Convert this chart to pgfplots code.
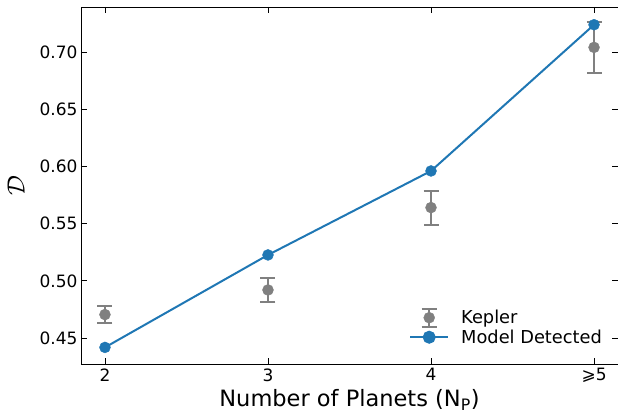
\documentclass[border=0pt]{standalone}
\usepackage{pgfplots}
\pgfplotsset{compat=1.18}
\usepackage{fontspec}
\setmainfont{DejaVu Sans}
\definecolor{mblue}{HTML}{1F77B4}
\definecolor{mgray}{HTML}{808080}
\begin{document}
\begin{tikzpicture}
\useasboundingbox (-81pt,-50pt) rectangle (537pt,364pt);
\begin{axis}[
  at={(0pt,0pt)}, anchor=south west,
  scale only axis, width=537pt, height=357pt,
  xmin=1.853, xmax=5.147, ymin=0.4273, ymax=0.7393,
  xtick={2,3,4,5}, xticklabels={2,3,4,⩾5},
  ytick={0.45,0.50,0.55,0.60,0.65,0.70},
  yticklabel style={/pgf/number format/.cd, fixed, fixed zerofill, precision=2},
  /pgf/number format/assume math mode=true,
  tick align=inside, tick pos=both,
  major tick length=6pt,
  ticklabel style={font=\fontsize{17}{19}\selectfont},
  xticklabel style={yshift=-1pt},
  axis line style={line width=0.8pt},
  every tick/.style={line width=0.8pt, black},
  xlabel={Number of Planets (N\textsubscript{P})},
  xlabel style={font=\fontsize{22.5}{25}\selectfont, yshift=0.5pt},
  ylabel={$\mathcal{D}$},
  ylabel style={font=\fontsize{24}{26}\selectfont, yshift=8pt},
  legend style={draw=none, fill=none, at={(0.976,0.045)}, anchor=south east,
    font=\fontsize{17.8}{19}\selectfont, row sep=0pt, cells={anchor=west},
    inner sep=1pt},
  legend cell align=left,
]
\addplot[only marks, mark=*, color=mgray, mark size=5.5pt,
  mark options={line width=0.4pt},
  legend image code/.code={
    \draw[mgray, line width=2pt] (19pt,-9pt)--(19pt,9pt);
    \draw[mgray, line width=2pt] (11.5pt,-9pt)--(26.5pt,-9pt);
    \draw[mgray, line width=2pt] (11.5pt,9pt)--(26.5pt,9pt);
    \fill[mgray] (19pt,0pt) circle (5.5pt);
    \path[draw=none, fill=none] (0pt,0pt) -- (49pt,0pt);
  },
  error bars/.cd, y dir=both, y explicit, error bar style={line width=2pt, mgray},
  error mark options={rotate=90, mark size=7.5pt, line width=2pt, mgray}]
  coordinates {
  (2,0.4705) +- (0,0.0077)
  (3,0.4920) +- (0,0.0105)
  (4,0.5640) +- (0,0.0148)
  (5,0.7040) +- (0,0.0220)
};
\addlegendentry{Kepler}
\addplot[color=mblue, line width=2pt, mark=*, mark size=5.5pt,
  mark options={line width=0.4pt},
  legend image code/.code={
    \draw[mblue, line width=2pt] (0pt,0pt)--(38pt,0pt);
    \fill[mblue] (19pt,0pt) circle (5.5pt);
    \path[draw=none, fill=none] (0pt,0pt) -- (49pt,0pt);
  }]
  coordinates {
  (2,0.4418) (3,0.5226) (4,0.5960) (5,0.7238)
};
\addlegendentry{Model Detected}
\end{axis}
\end{tikzpicture}
\end{document}
